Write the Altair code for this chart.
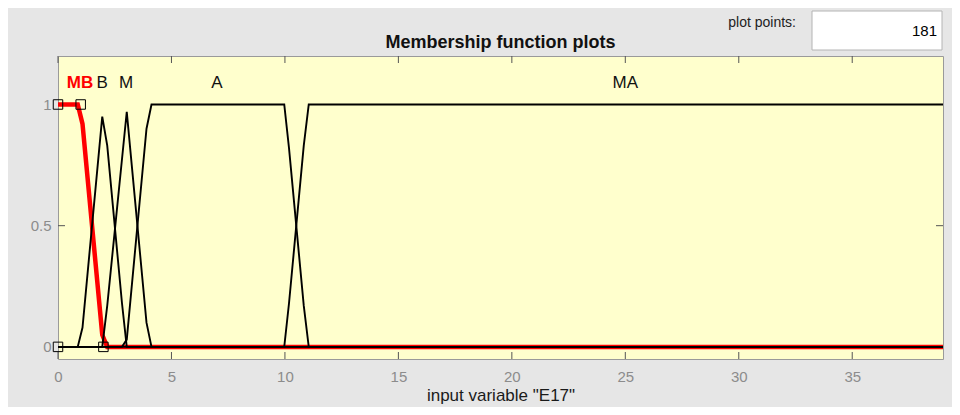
import altair as alt
import pandas as pd

mb_x = [0, 0.87, 1.08, 1.95, 2.17, 39]
mb_y = [1, 1, 0.92, 0.05, 0, 0]

b_x = [0, 0.87, 1.08, 1.95, 2.17, 2.82, 3.03, 39]
b_y = [0, 0, 0.08, 0.95, 0.83, 0.18, 0, 0]

m_x = [0, 1.95, 2.17, 3.03, 3.25, 3.9, 4.12, 39]
m_y = [0, 0, 0.17, 0.97, 0.75, 0.1, 0, 0]

a_x = [0, 2.82, 3.03, 3.9, 4.12, 9.97, 10.18, 10.83, 11.05, 39]
a_y = [0, 0, 0.03, 0.9, 1, 1, 0.82, 0.17, 0, 0]

ma_x = [0, 9.97, 10.18, 10.83, 11.05, 39]
ma_y = [0, 0, 0.18, 0.83, 1, 1]

# square handles of the selected function (MB)
sq_x = [0, 0, 1, 2]
sq_y = [0, 1, 1, 0]

# function names and label positions
lab_names = ["B", "M", "A", "MA"]
lab_x = [1.95, 3.0, 7.0, 25.0]
lab_y = [1.09, 1.09, 1.09, 1.09]
sel_name = "MB"
sel_x = 0.97
sel_y = 1.09

x_ticks = [0, 5, 10, 15, 20, 25, 30, 35]
y_ticks = [0, 0.5, 1]

x_title = 'input variable "E17"'
chart_title = "Membership function plots"
pp_label = "plot points:"
pp_value = "181"

FONT = "Liberation Sans"
W, H = 885, 303

# ---- tables ----
rows = []
for name, xs, ys in [("B", b_x, b_y), ("M", m_x, m_y), ("A", a_x, a_y), ("MA", ma_x, ma_y)]:
    for i, (xv, yv) in enumerate(zip(xs, ys)):
        rows.append({"mf": name, "x": xv, "y": yv, "o": i})
black_df = pd.DataFrame(rows)
red_df = pd.DataFrame({"x": mb_x, "y": mb_y, "o": list(range(len(mb_x)))})
sq_df = pd.DataFrame({"x": sq_x, "y": sq_y})
lab_df = pd.DataFrame({"name": lab_names, "x": lab_x, "y": lab_y})
sel_df = pd.DataFrame({"name": [sel_name], "x": [sel_x], "y": [sel_y]})
xt_df = pd.DataFrame({"t": x_ticks})
yt_df = pd.DataFrame({"t": y_ticks})
one = pd.DataFrame({"a": [0]})

xscale = alt.Scale(domain=[0, 39], nice=False, zero=False)
yscale = alt.Scale(domain=[-0.05, 1.2], nice=False, zero=False)

xaxis = alt.Axis(values=x_ticks, ticks=False, domain=False, grid=False, labelFlush=False,
                 labelColor="#8c8c8c", labelFontSize=15, labelFont=FONT, labelPadding=10,
                 title=x_title, titleFont=FONT, titleFontSize=17, titleFontWeight="normal",
                 titleColor="#1a1a1a", titlePadding=3)
yaxis = alt.Axis(values=y_ticks, ticks=False, domain=False, grid=False, format="~g",
                 labelColor="#8c8c8c", labelFontSize=15, labelFont=FONT, labelPadding=7,
                 title=None)

X = lambda f="x": alt.X(f"{f}:Q", scale=xscale, axis=xaxis)
Y = lambda f="y": alt.Y(f"{f}:Q", scale=yscale, axis=yaxis)

red = alt.Chart(red_df).mark_line(color="#ff0000", strokeWidth=4.5).encode(
    x=X(), y=Y(), order="o:Q")
black = alt.Chart(black_df).mark_line(color="black", strokeWidth=1.9).encode(
    x=X(), y=Y(), detail="mf:N", order="o:Q")
squares = alt.Chart(sq_df).mark_point(shape="square", size=90, filled=False,
                                      color="black", strokeWidth=1, opacity=1).encode(
    x=X(), y=Y())
labels = alt.Chart(lab_df).mark_text(font=FONT, fontSize=17, color="#111111",
                                     baseline="middle").encode(
    x=X(), y=Y(), text="name:N")
sel_label = alt.Chart(sel_df).mark_text(font=FONT, fontSize=17, fontWeight="bold",
                                        color="#ff0000", baseline="middle").encode(
    x=X(), y=Y(), text="name:N")

tick_color = "#555555"
xt_bot = alt.Chart(xt_df).mark_rule(color=tick_color, strokeWidth=1).encode(
    x=X("t"), y=alt.value(H - 7), y2=alt.value(H))
xt_top = alt.Chart(xt_df).mark_rule(color=tick_color, strokeWidth=1).encode(
    x=X("t"), y=alt.value(0), y2=alt.value(7))
yt_left = alt.Chart(yt_df).mark_rule(color=tick_color, strokeWidth=1).encode(
    y=Y("t"), x=alt.value(0), x2=alt.value(7))
yt_right = alt.Chart(yt_df).mark_rule(color=tick_color, strokeWidth=1).encode(
    y=Y("t"), x=alt.value(W - 7), x2=alt.value(W))

box = alt.Chart(one).mark_rect(fill="white", stroke="#b4b4b4", strokeWidth=1).encode(
    x=alt.value(754), x2=alt.value(884), y=alt.value(-45), y2=alt.value(-6))
box_text = alt.Chart(one).mark_text(font=FONT, fontSize=15, color="black", align="right",
                                    baseline="middle").encode(
    x=alt.value(879), y=alt.value(-25), text=alt.value(pp_value))
pp_text = alt.Chart(one).mark_text(font=FONT, fontSize=14, color="#222222", align="right",
                                   baseline="middle").encode(
    x=alt.value(738), y=alt.value(-33), text=alt.value(pp_label))
title_text = alt.Chart(one).mark_text(font=FONT, fontSize=18, fontWeight="bold",
                                      color="#111111", align="center",
                                      baseline="middle").encode(
    x=alt.value(W / 2), y=alt.value(-13), text=alt.value(chart_title))

chart = alt.layer(
    xt_bot, xt_top, yt_left, yt_right, red, black, squares, labels, sel_label,
    box, box_text, pp_text, title_text
).properties(
    width=W, height=H,
    autosize=alt.AutoSizeParams(type="none"),
    padding={"left": 50, "top": 48, "right": 9, "bottom": 48},
    background="#e6e6e6",
).configure_view(
    fill="#ffffcd", stroke="#9a9a9a", strokeWidth=1
)

chart.save("out.html", embed_options={"renderer": "svg", "actions": False})
